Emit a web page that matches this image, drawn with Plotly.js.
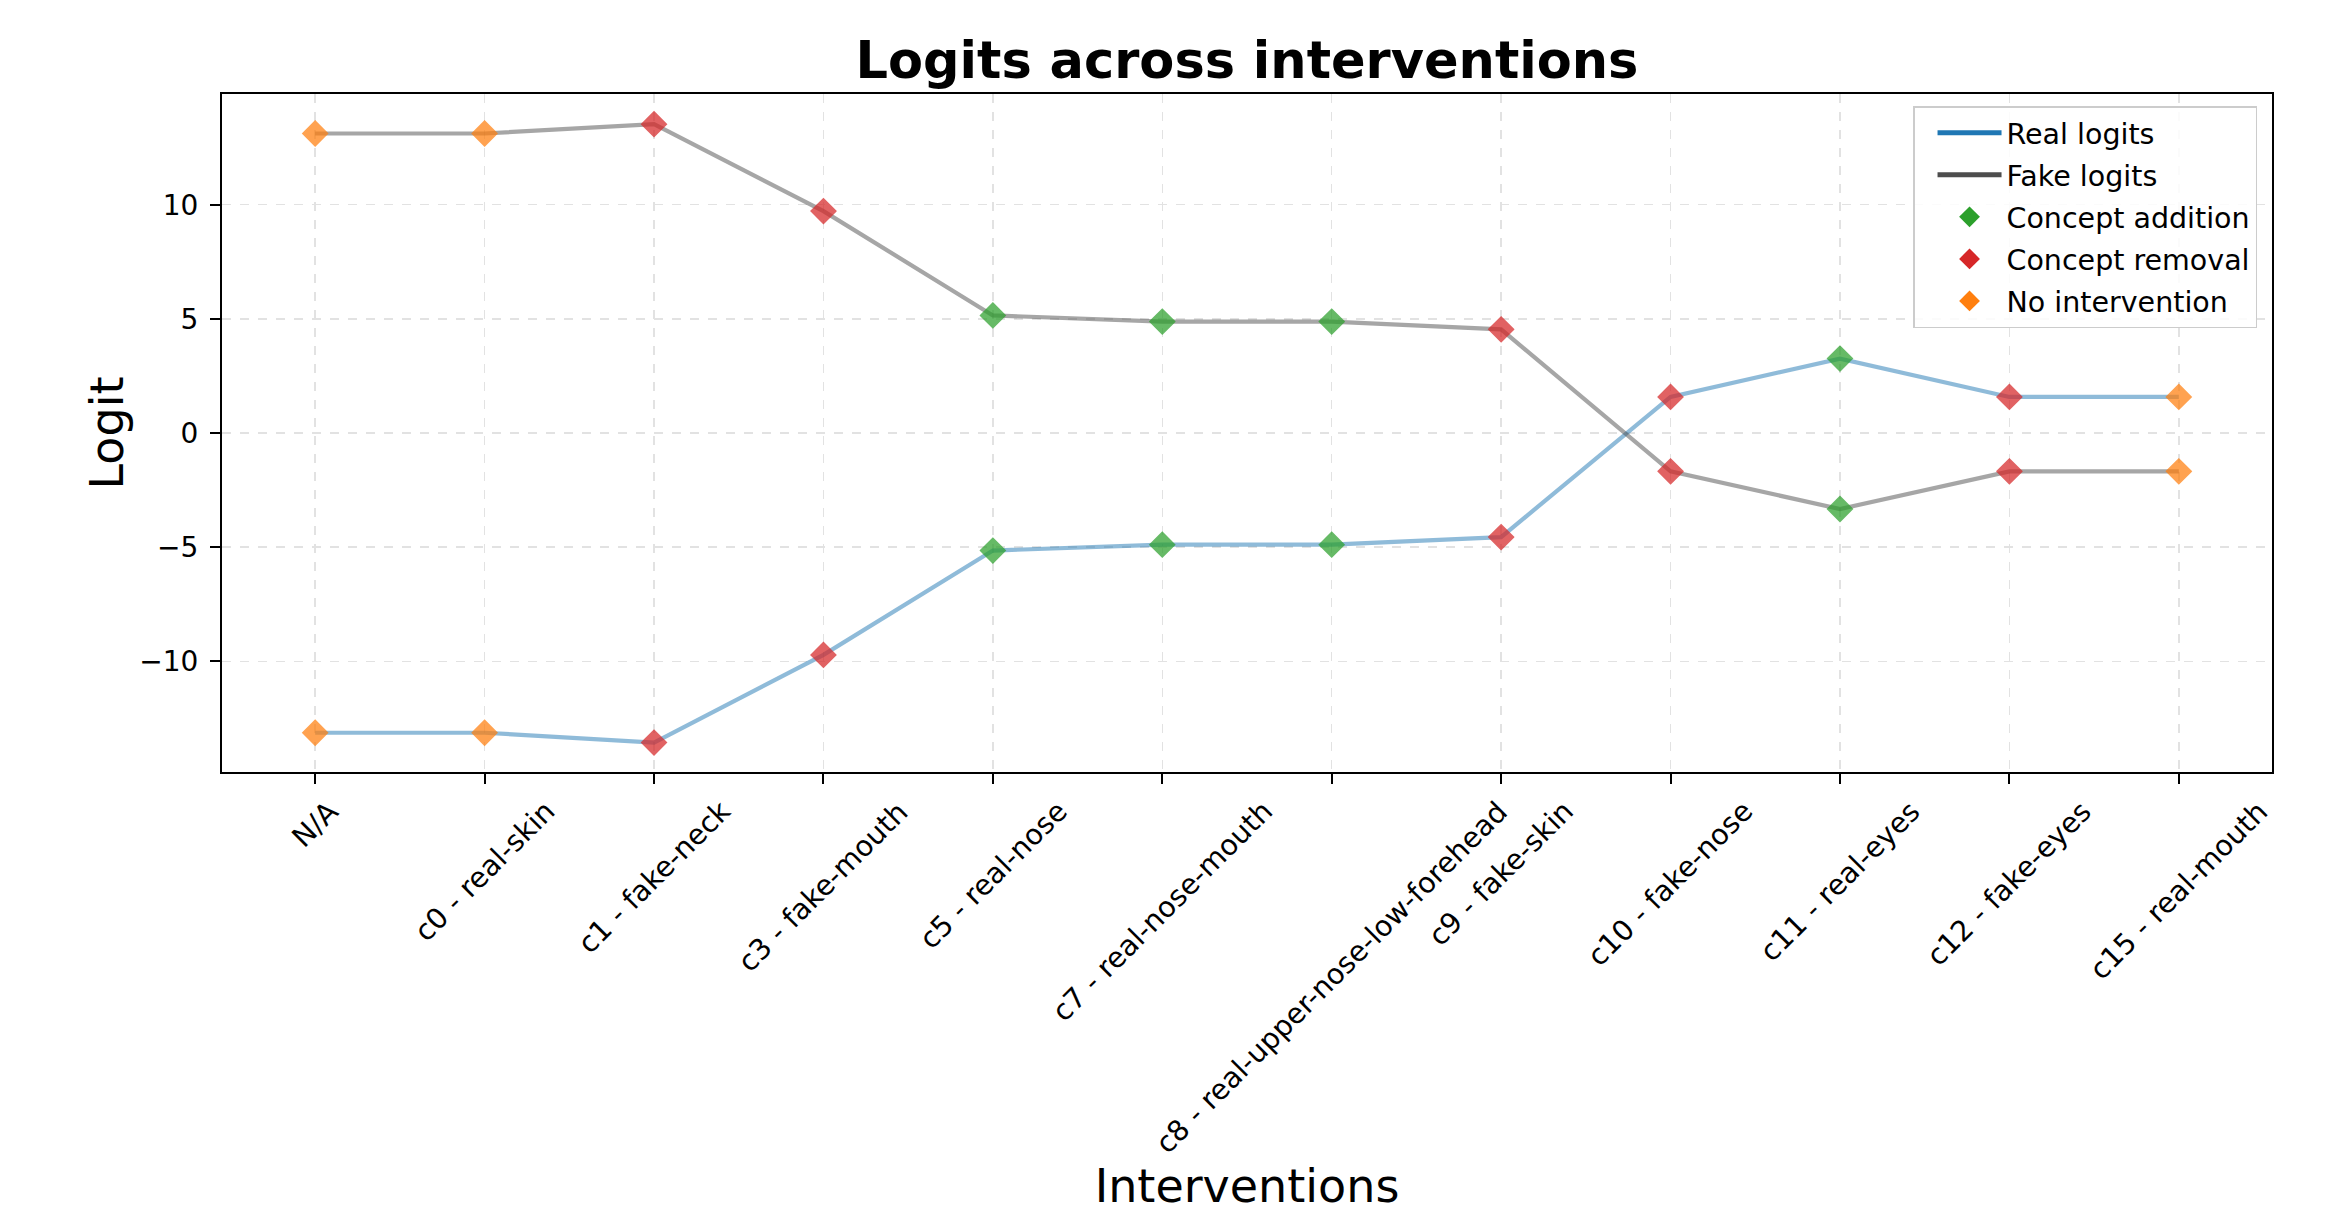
<!DOCTYPE html>
<html><head><meta charset="utf-8">
<script src="https://cdn.plot.ly/plotly-3.0.1.min.js"></script>
<style>html,body{margin:0;padding:0;background:#fff}#chart{width:2333px;height:1213px}</style>
</head><body><div id="chart"></div>
<script>
// ---- data ----
const categories = ['N/A','c0 - real-skin','c1 - fake-neck','c3 - fake-mouth','c5 - real-nose','c7 - real-nose-mouth','c8 - real-upper-nose-low-forehead','c9 - fake-skin','c10 - fake-nose','c11 - real-eyes','c12 - fake-eyes','c15 - real-mouth'];
const realLogits = [-13.13,-13.13,-13.56,-9.72,-5.15,-4.89,-4.89,-4.56,1.58,3.26,1.58,1.58];
const fakeLogits = [13.12,13.12,13.53,9.72,5.15,4.88,4.88,4.54,-1.68,-3.33,-1.68,-1.68];
const interventionTypes = ['none','none','removal','removal','addition','addition','addition','removal','removal','addition','removal','none'];
const typeKeys = ['addition','removal','none'];
const typeNames = ['Concept addition','Concept removal','No intervention'];
const seriesNames = ['Real logits','Fake logits'];
const yTicks = [-10,-5,0,5,10];

// ---- styles ----
const typeColors = {addition:'#2ca02c', removal:'#d62728', none:'#ff7f0e'};
const FONT = 'DejaVu Sans, Verdana, sans-serif';

const traces = [];
traces.push({x:categories, y:realLogits, mode:'lines', line:{color:'rgba(31,119,180,0.5)', width:4.2}, showlegend:false, hoverinfo:'skip'});
traces.push({x:categories, y:fakeLogits, mode:'lines', line:{color:'rgba(77,77,77,0.5)', width:4.2}, showlegend:false, hoverinfo:'skip'});

typeKeys.forEach(k => {
  const xs = [], ys = [];
  categories.forEach((c,i) => {
    if (interventionTypes[i] === k) { xs.push(c); ys.push(realLogits[i]); xs.push(c); ys.push(fakeLogits[i]); }
  });
  traces.push({x:xs, y:ys, mode:'markers', showlegend:false,
    marker:{symbol:'diamond', size:19, color:typeColors[k], opacity:0.72, line:{color:typeColors[k], width:1.5}}});
});

// legend-only entries (full colour, like the reference legend)
traces.push({x:[null], y:[null], mode:'lines', name:seriesNames[0], legendgroup:'a', line:{color:'#1f77b4', width:5}});
traces.push({x:[null], y:[null], mode:'lines', name:seriesNames[1], legendgroup:'b', line:{color:'#4d4d4d', width:5}});
typeKeys.forEach((k,i) => {
  traces.push({x:[null], y:[null], mode:'markers', name:typeNames[i], legendgroup:'c'+i,
    marker:{symbol:'diamond', size:16, color:typeColors[k]}});
});

const annotations = categories.map(c => ({
  x:c, xref:'x', y:0, yref:'paper', yanchor:'top', xanchor:'center', yshift:-20,
  text:c, showarrow:false, textangle:-45, font:{family:FONT, size:28.5, color:'#000'}
}));

const layout = {
  width:2333, height:1213,
  paper_bgcolor:'#fff', plot_bgcolor:'#fff',
  margin:{l:222, r:61, t:94, b:441},
  font:{family:FONT, color:'#000'},
  title:{text:'<b>Logits across interventions</b>', font:{family:FONT, size:51, color:'#000'},
         x:0.5, xref:'paper', xanchor:'center', y:1-60/1213, yref:'container', yanchor:'middle'},
  xaxis:{type:'category', range:[-0.55, 11.55], showticklabels:false,
         ticks:'outside', ticklen:10, tickwidth:2, tickcolor:'#000',
         showline:true, linecolor:'#000', linewidth:2, mirror:true,
         showgrid:true, gridcolor:'#e2e2e2', griddash:'dash', gridwidth:1.5, zeroline:false,
         title:{text:'Interventions', font:{family:FONT, size:46, color:'#000'}, standoff:387}},
  yaxis:{range:[-14.85, 14.85], tickvals:yTicks, ticks:'outside', ticklen:10, tickwidth:2, tickcolor:'#000',
         tickfont:{family:FONT, size:28, color:'#000'}, ticklabelstandoff:6,
         showline:true, linecolor:'#000', linewidth:2, mirror:true,
         showgrid:true, gridcolor:'#e2e2e2', griddash:'dash', gridwidth:1.5, zeroline:false,
         title:{text:'Logit', font:{family:FONT, size:46, color:'#000'}, standoff:1}},
  legend:{x:0.9927, xanchor:'right', y:0.982, yanchor:'top', bgcolor:'rgba(255,255,255,0.85)',
          bordercolor:'#cccccc', borderwidth:1.5, font:{family:FONT, size:28.5, color:'#000'},
          itemwidth:64, indentation:18, traceorder:'grouped', tracegroupgap:2},
  annotations:annotations,
  showlegend:true
};

Plotly.newPlot('chart', traces, layout, {displayModeBar:false, staticPlot:true});
</script>
</body></html>
